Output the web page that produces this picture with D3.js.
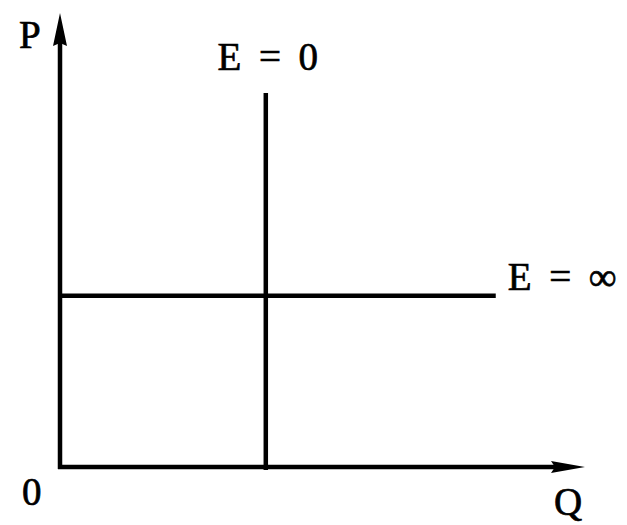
<!DOCTYPE html>
<html><head><meta charset="utf-8">
<script src="https://cdn.jsdelivr.net/npm/d3@7"></script>
<style>body{margin:0;background:#fff}svg{display:block}</style>
</head><body>
<script>
// Data (abstract Q / P units)
const axisMax = {q: 10, p: 10};
const perfectlyInelastic = {label: "E = 0", q: 3.92, pFrom: 0, pTo: 8.24};   // vertical
const perfectlyElastic = {label: "E = \u221E", p: 3.77, qFrom: 0, qTo: 8.3};  // horizontal
const axisLabels = {x: "Q", y: "P", origin: "0"};

const W = 627, H = 525;
const svg = d3.select("body").append("svg").attr("width", W).attr("height", H);
const x = d3.scaleLinear().domain([0, axisMax.q]).range([60, 585]);
const y = d3.scaleLinear().domain([0, axisMax.p]).range([467, 13]);

const font = "'Liberation Serif', 'DejaVu Serif', serif";

// axes
const g = svg.append("g").attr("stroke", "#000").attr("stroke-width", 4.5).attr("fill", "none");
g.append("line").attr("x1", x(0) - 2).attr("x2", x(axisMax.q) - 20).attr("y1", y(0)).attr("y2", y(0));
g.append("line").attr("x1", x(0)).attr("x2", x(0)).attr("y1", y(0) + 2).attr("y2", y(axisMax.p) + 20);
// arrowheads
svg.append("path").attr("fill", "#000")
  .attr("d", `M${x(axisMax.q)},${y(0)} L${x(axisMax.q) - 34},${y(0) - 6} L${x(axisMax.q) - 30},${y(0)} L${x(axisMax.q) - 34},${y(0) + 6} Z`);
svg.append("path").attr("fill", "#000")
  .attr("d", `M${x(0)},${y(axisMax.p)} L${x(0) - 7},${y(axisMax.p) + 33} L${x(0)},${y(axisMax.p) + 30} L${x(0) + 7},${y(axisMax.p) + 33} Z`);

// curves
g.append("line").attr("x1", x(perfectlyInelastic.q)).attr("x2", x(perfectlyInelastic.q))
  .attr("y1", y(perfectlyInelastic.pFrom) + 3).attr("y2", y(perfectlyInelastic.pTo));
g.append("line").attr("x1", x(perfectlyElastic.qFrom)).attr("x2", x(perfectlyElastic.qTo))
  .attr("y1", y(perfectlyElastic.p)).attr("y2", y(perfectlyElastic.p));

// labels
const t = svg.append("g").attr("font-family", font).attr("font-size", 39).attr("fill", "#000")
  .attr("stroke", "#000").attr("stroke-width", 0.7);
t.append("text").attr("x", x(perfectlyInelastic.q) + 2).attr("y", y(perfectlyInelastic.pTo) - 23)
  .attr("text-anchor", "middle").attr("xml:space", "preserve").text(perfectlyInelastic.label.replace(/ /g, "\u2009 "));
t.append("text").attr("x", x(perfectlyElastic.qTo) + 12).attr("y", y(perfectlyElastic.p) - 6)
  .attr("xml:space", "preserve").text(perfectlyElastic.label.replace(/ /g, "\u2009 "));
t.append("text").attr("x", 19).attr("y", 48).text(axisLabels.y);
t.append("text").attr("x", 22).attr("y", 505).text(axisLabels.origin);
t.append("text").attr("x", 554).attr("y", 515).text(axisLabels.x);
</script>
</body></html>
